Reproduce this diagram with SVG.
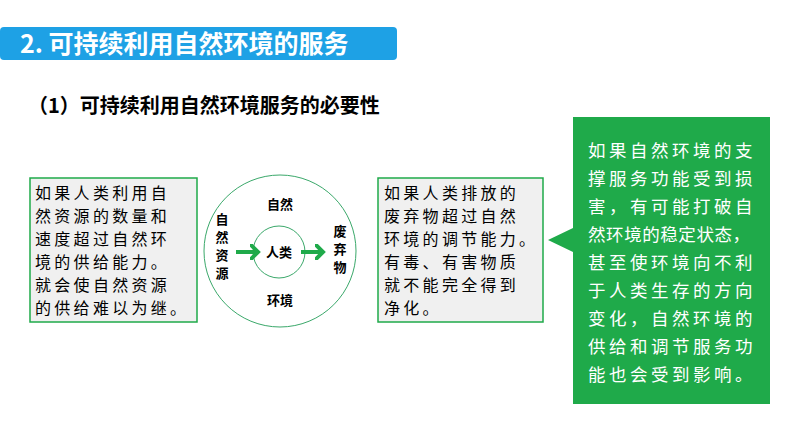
<svg xmlns="http://www.w3.org/2000/svg" width="794" height="447" viewBox="0 0 794 447">
<style>
text{font-family:"Noto Sans CJK SC","Liberation Sans",sans-serif;fill:#000}
.b{font-size:16px;letter-spacing:3.3px}
.c{font-size:13px;font-weight:bold}
.w{fill:#fff;font-size:17.5px;letter-spacing:3.5px}
.box{fill:#f0f0f0;stroke:#1faa4a;stroke-width:1.5}
</style>
<defs><marker id="ah" markerWidth="4" markerHeight="4" refX="2" refY="2" orient="auto"><path d="M0,0L2,2L0,4" fill="none" stroke="#1faa4a" stroke-width="1"/></marker></defs>
<rect width="794" height="447" fill="#fff"/>
<g id="title"><rect x="0" y="27" width="397" height="33" rx="4" fill="#1ea1e5"/>
<text x="20" y="53" style="fill:#fff;font-size:25px;font-weight:bold">2. 可持续利用自然环境的服务</text></g>
<g id="subtitle"><text x="28" y="113" style="font-size:20px;font-weight:bold">（1）可持续利用自然环境服务的必要性</text></g>
<g id="left"><rect class="box" x="30" y="178" width="167" height="144"/>
<text class="b" x="35" y="199">如果人类利用自</text><text class="b" x="35" y="222">然资源的数量和</text><text class="b" x="35" y="245">速度超过自然环</text><text class="b" x="35" y="268">境的供给能力。</text><text class="b" x="35" y="291">就会使自然资源</text><text class="b" x="35" y="314">的供给难以为继。</text></g>
<g id="right"><rect class="box" x="378" y="178" width="165" height="144"/>
<text class="b" x="384" y="199">如果人类排放的</text><text class="b" x="384" y="222">废弃物超过自然</text><text class="b" x="384" y="245">环境的调节能力。</text><text class="b" x="384" y="268">有毒、有害物质</text><text class="b" x="384" y="291">就不能完全得到</text><text class="b" x="384" y="314">净化。</text></g>
<g id="circle"><circle cx="280" cy="251" r="76" fill="none" stroke="#3aa86a" stroke-width="1"/>
<circle cx="279" cy="252" r="26" fill="none" stroke="#3aa86a" stroke-width="1"/>
<text class="c" x="280" y="209" text-anchor="middle">自然</text>
<text class="c" x="280" y="305" text-anchor="middle">环境</text>
<text class="c" x="279" y="257" text-anchor="middle">人类</text>
<text class="c" x="222" y="224" text-anchor="middle">自</text><text class="c" x="222" y="242" text-anchor="middle">然</text><text class="c" x="222" y="260" text-anchor="middle">资</text><text class="c" x="222" y="278" text-anchor="middle">源</text>
<text class="c" x="340" y="236" text-anchor="middle">废</text><text class="c" x="340" y="254" text-anchor="middle">弃</text><text class="c" x="340" y="272" text-anchor="middle">物</text></g>
<g id="connectors" stroke="#1faa4a" stroke-width="4" fill="none">
<line x1="236" y1="252" x2="258" y2="252" marker-end="url(#ah)"/>
<line x1="301" y1="252" x2="323" y2="252" marker-end="url(#ah)"/></g>
<g id="callout"><path d="M573,117H770V404H573V252L548,240L573,228Z" fill="#1faa4a"/>
<text class="w" x="588" y="157">如果自然环境的支</text><text class="w" x="588" y="185">撑服务功能受到损</text><text class="w" x="588" y="213">害，有可能打破自</text><text class="w" x="588" y="241" style="letter-spacing:0" textLength="162">然环境的稳定状态，</text><text class="w" x="588" y="269">甚至使环境向不利</text><text class="w" x="588" y="297">于人类生存的方向</text><text class="w" x="588" y="325">变化，自然环境的</text><text class="w" x="588" y="353">供给和调节服务功</text><text class="w" x="588" y="381">能也会受到影响。</text></g>
</svg>
